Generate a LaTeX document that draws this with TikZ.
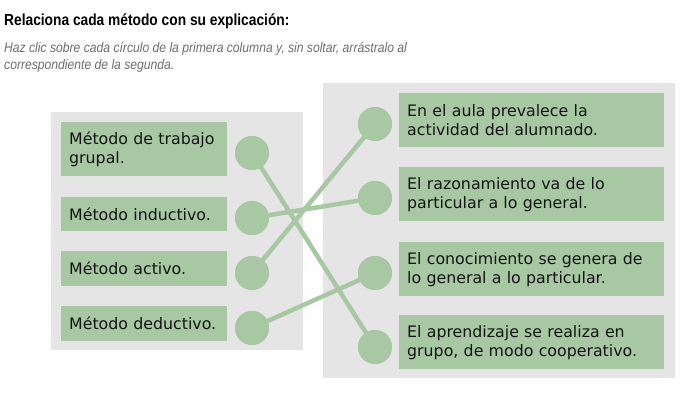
\documentclass[tikz,border=0pt]{standalone}
\usepackage{fontspec}
\setmainfont{DejaVu Sans}
\newfontfamily\titlefont[FakeStretch=0.86]{Liberation Sans}
\newfontfamily\subfont[FakeStretch=0.88]{Liberation Sans}
\definecolor{boxgreen}{HTML}{A8C8A4}
\definecolor{panelgray}{HTML}{E5E5E5}
\definecolor{subgray}{HTML}{6E6E6E}
\definecolor{bodytext}{HTML}{141414}
\begin{document}
\begin{tikzpicture}[x=1pt,y=-1pt,
  panel/.style={fill=panelgray,draw=none},
  lbox/.style={fill=boxgreen,draw=none,anchor=north west,minimum width=166pt,inner xsep=8pt,inner ysep=0pt,align=left,text=bodytext,font=\fontsize{15.8}{19}\selectfont,text width=150pt},
  rbox/.style={fill=boxgreen,draw=none,anchor=north west,minimum width=265pt,minimum height=54pt,inner xsep=8pt,inner ysep=0pt,align=left,text=bodytext,font=\fontsize{15.8}{19}\selectfont,text width=249pt},
  dot/.style={circle,fill=boxgreen,draw=none,minimum size=34pt,inner sep=0pt},
  subtxt/.style={anchor=base west,inner sep=0pt,font=\subfont\itshape\fontsize{13.8}{16}\selectfont,text=subgray},
  link/.style={draw=boxgreen,line width=4.5pt}]
\useasboundingbox (0,0) rectangle (699,406);
\fill[white] (0,0) rectangle (699,406);
\node[anchor=base west,inner sep=0pt,font=\titlefont\bfseries\fontsize{16}{18}\selectfont] (title) at (4,26) {Relaciona cada método con su explicación:};
\node[subtxt] (sub1) at (4,53) {Haz clic sobre cada círculo de la primera columna y, sin soltar, arrástralo al};
\node[subtxt] (sub2) at (4,70) {correspondiente de la segunda.};
% panels
\path[panel] (51,112) rectangle (303,350);
\path[panel] (323,83) rectangle (675,378);
% left boxes
\node[lbox,minimum height=54pt] (l1) at (61,122) {Método de trabajo\\grupal.};
\node[lbox,minimum height=34pt] (l2) at (61,197) {Método inductivo.};
\node[lbox,minimum height=35pt] (l3) at (61,251) {Método activo.};
\node[lbox,minimum height=35pt] (l4) at (61,306) {Método deductivo.};
% right boxes
\node[rbox] (r1) at (399,93) {En el aula prevalece la\\actividad del alumnado.};
\node[rbox] (r2) at (399,167) {El razonamiento va de lo\\particular a lo general.};
\node[rbox] (r3) at (399,242) {El conocimiento se genera de\\lo general a lo particular.};
\node[rbox] (r4) at (399,315) {El aprendizaje se realiza en\\grupo, de modo cooperativo.};
% circles
\node[dot] (a1) at (252,153) {};
\node[dot] (a2) at (252,218) {};
\node[dot] (a3) at (252,273) {};
\node[dot] (a4) at (252,328) {};
\node[dot] (b1) at (375,124) {};
\node[dot] (b2) at (375,198) {};
\node[dot] (b3) at (375,273) {};
\node[dot] (b4) at (375,347) {};
% links
\draw[link] (a1.center) -- (b4.center);
\draw[link] (a2.center) -- (b2.center);
\draw[link] (a3.center) -- (b1.center);
\draw[link] (a4.center) -- (b3.center);
% circles on top of the links
\foreach \n in {a1,a2,a3,a4,b1,b2,b3,b4}{\fill[boxgreen] (\n) circle (17pt);}
\end{tikzpicture}
\end{document}
